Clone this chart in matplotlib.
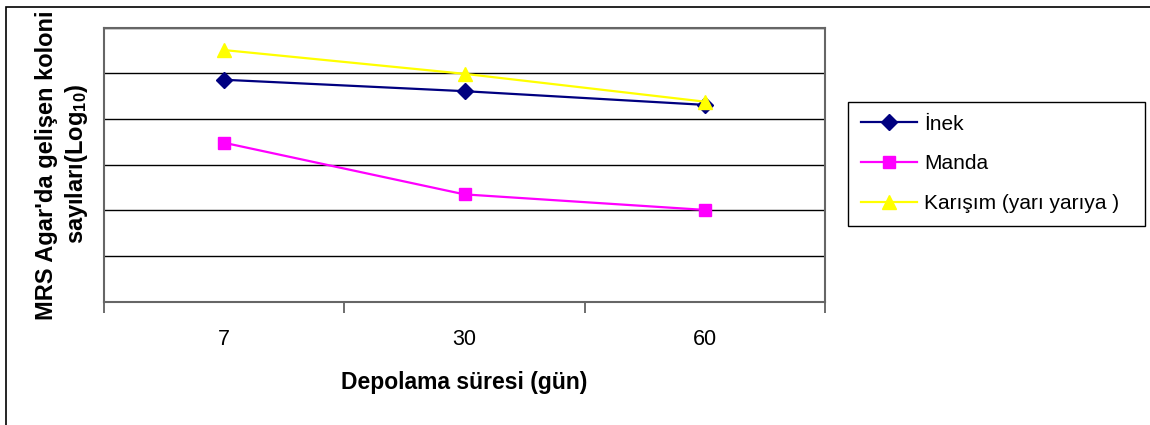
import matplotlib
matplotlib.use("Agg")
import matplotlib.pyplot as plt
from matplotlib.patches import Rectangle

plt.rcParams['font.family'] = ['Liberation Sans', 'DejaVu Sans']
plt.rcParams['mathtext.fontset'] = 'custom'
plt.rcParams['mathtext.rm'] = 'Liberation Sans:bold'
plt.rcParams['mathtext.bf'] = 'Liberation Sans:bold'
plt.rcParams['mathtext.it'] = 'Liberation Sans:bold'

categories = ["7", "30", "60"]
inek = [4.86, 4.61, 4.31]
manda = [3.48, 2.35, 2.01]
karisim = [5.51, 4.99, 4.38]
series_names = ["İnek", "Manda", "Karışım (yarı yarıya )"]
xlabel = "Depolama süresi (gün)"
ylabel_line1 = "MRS Agar'da gelişen koloni"
ylabel_line2 = "sayıları(Log$_{10}$)"

W, H = 1150, 425
fig = plt.figure(figsize=(W / 100, H / 100), dpi=100)
ax = fig.add_axes([104 / W, 1 - 301.7 / H, (825 - 104) / W, (301.7 - 27.7) / H])

x = list(range(len(categories)))
ax.plot(x, inek, color='#000080', lw=1.6, marker='D', ms=8, label=series_names[0], zorder=3)
ax.plot(x, manda, color='#FF00FF', lw=1.6, marker='s', ms=8, label=series_names[1], zorder=3)
ax.plot(x, karisim, color='#FFFF00', lw=1.6, marker='^', ms=9.5, label=series_names[2], zorder=3)

ax.set_xlim(-0.5, len(categories) - 0.5)
ax.set_ylim(0, 6)
ax.set_yticks(range(0, 7))
ax.set_yticklabels([])
ax.tick_params(axis='y', length=0)
ax.yaxis.grid(True, color='#000000', lw=1)
ax.set_axisbelow(True)

ax.set_xticks(x)
ax.set_xticklabels(categories, fontsize=15.5)
ax.tick_params(axis='x', which='major', length=0, pad=20)
ax.set_xticks([i - 0.5 for i in range(len(categories) + 1)], minor=True)
ax.tick_params(axis='x', which='minor', length=8, width=1.2, color='#555555', direction='out')

for s in ax.spines.values():
    s.set_color('#666666')
    s.set_linewidth(1.5)

ax.set_xlabel(xlabel, fontsize=16.5, fontweight='bold', labelpad=15)

fig.text(47 / W, 1 - 320 / H, ylabel_line1, rotation=90, ha='center', va='bottom',
         fontsize=17, fontweight='bold')
fig.text(77 / W, 1 - 164 / H, ylabel_line2, rotation=90, ha='center', va='center',
         fontsize=17, fontweight='bold')

leg = fig.legend(loc='upper left', bbox_to_anchor=(848 / W, 1 - 222 / H, 297 / W, 120 / H),
                 mode='expand', fontsize=15,
                 frameon=True, fancybox=False, edgecolor='#000000', framealpha=1,
                 handlelength=2.7, handletextpad=0.35, labelspacing=1.0,
                 borderpad=0.6, borderaxespad=0)
leg.get_frame().set_linewidth(1.0)

fig.patches.append(Rectangle((6 / W, -0.1), 1.2, 1 - 7 / H + 0.1, fill=False,
                             edgecolor='#000000', lw=1.2, transform=fig.transFigure))

fig.savefig("out.png", dpi=100)
